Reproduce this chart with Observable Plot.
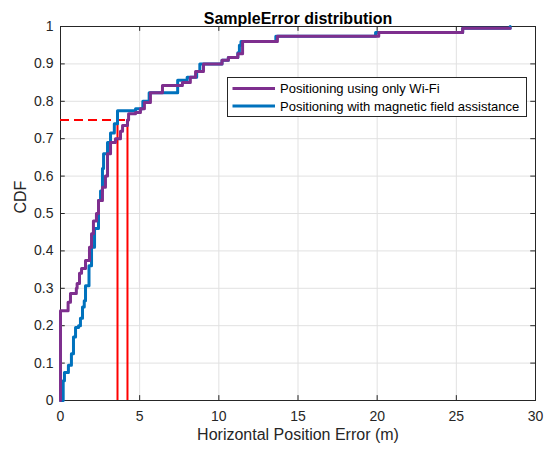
<!DOCTYPE html>
<html>
<head>
<meta charset="utf-8">
<script src="https://cdn.jsdelivr.net/npm/d3@7"></script>
<script src="https://cdn.jsdelivr.net/npm/@observablehq/plot@0.6"></script>
<style>
  html, body { margin: 0; padding: 0; background: #fff; }
</style>
</head>
<body>
<div id="chart"></div>
<script>
const titleText = "SampleError distribution";
const xLabel = "Horizontal Position Error (m)";
const yLabel = "CDF";
const xTicks = [0, 5, 10, 15, 20, 25, 30];
const yTicks = [0, 0.1, 0.2, 0.3, 0.4, 0.5, 0.6, 0.7, 0.8, 0.9, 1];

const seriesNames = ["Positioning using only Wi-Fi", "Positioning with magnetic field assistance"];
const seriesColors = ["#7E2F8E", "#0072BD"];

// Wi-Fi only: step CDF breakpoints
const wifiError = [0, 0, 0.48, 0.63, 1.0, 1.05, 1.2, 1.33, 1.58, 1.83, 1.96, 2.08, 2.27, 2.4, 2.65, 2.84, 2.97, 3.16, 3.47, 3.79, 3.92, 4.23, 4.3, 4.74, 5.05, 5.3, 5.68, 6.44, 7.7, 8.2, 8.53, 9.03, 10.2, 10.6, 11.2, 11.5, 13.7, 20.1, 25.4, 28.4];
const wifiCdf   = [0, 0.24, 0.263, 0.286, 0.30, 0.313, 0.34, 0.353, 0.374, 0.41, 0.446, 0.48, 0.50, 0.535, 0.57, 0.60, 0.66, 0.69, 0.70, 0.72, 0.735, 0.75, 0.767, 0.77, 0.78, 0.797, 0.823, 0.842, 0.85, 0.864, 0.88, 0.90, 0.91, 0.917, 0.927, 0.96, 0.974, 0.984, 0.995, 0.995];

// Magnetic-field assisted: step CDF breakpoints
const magError = [0, 0.17, 0.25, 0.5, 0.69, 0.82, 0.95, 1.14, 1.26, 1.39, 1.5, 1.58, 1.8, 1.96, 2.15, 2.4, 2.53, 2.65, 2.72, 2.97, 3.16, 3.4, 3.6, 4.74, 5.2, 5.6, 7.4, 8.0, 8.6, 8.8, 10.2, 10.6, 11.2, 11.3, 11.4, 13.6, 19.9, 25.4, 28.4];
const magCdf   = [0, 0.053, 0.075, 0.094, 0.125, 0.17, 0.195, 0.2, 0.22, 0.25, 0.267, 0.307, 0.36, 0.41, 0.46, 0.535, 0.56, 0.62, 0.66, 0.69, 0.715, 0.74, 0.775, 0.78, 0.80, 0.823, 0.856, 0.864, 0.88, 0.90, 0.91, 0.917, 0.93, 0.95, 0.96, 0.974, 0.984, 0.995, 1.0];

// 75th-percentile markers
const percentileLevel = 0.75;
const percentileErrors = [3.6, 4.23];

const wifi = wifiError.map((x, i) => ({x, y: wifiCdf[i]}));
const mag = magError.map((x, i) => ({x, y: magCdf[i]}));

const ink = "#262626";
const gridColor = "#e1e1e1";

const svg = Plot.plot({
  width: 550,
  height: 449,
  marginLeft: 60,
  marginRight: 15,
  marginTop: 26,
  marginBottom: 49,
  x: {domain: [0, 30]},
  y: {domain: [0, 1]},
  style: {fontFamily: "'Liberation Sans', Arial, Helvetica, sans-serif", fontSize: "14px", color: ink, background: "#fff", overflow: "visible"},
  marks: [
    Plot.gridX(xTicks, {stroke: gridColor, strokeOpacity: 1}),
    Plot.gridY(yTicks, {stroke: gridColor, strokeOpacity: 1}),
    Plot.axisX(xTicks, {tickSize: 0, tickPadding: 11, label: null, tickFormat: d => String(d), fontSize: 14}),
    Plot.axisY(yTicks, {tickSize: 0, tickPadding: 7, label: null, tickFormat: d => String(d), fontSize: 14}),
    // inward ticks (MATLAB style) and box
    Plot.ruleX(xTicks, {y1: 0, y2: 0.013, stroke: ink}),
    Plot.ruleX(xTicks, {y1: 1, y2: 0.987, stroke: ink}),
    Plot.ruleY(yTicks, {x1: 0, x2: 0.3, stroke: ink}),
    Plot.ruleY(yTicks, {x1: 30, x2: 29.7, stroke: ink}),
    Plot.frame({stroke: ink, strokeWidth: 1}),
    Plot.ruleX(percentileErrors, {y1: 0, y2: percentileLevel, stroke: "#ff0000", strokeWidth: 2}),
    Plot.ruleY([percentileLevel], {x1: 0, x2: percentileErrors[1], stroke: "#ff0000", strokeWidth: 2, strokeDasharray: "9,5"}),
    Plot.line(mag, {x: "x", y: "y", curve: "step-after", stroke: seriesColors[1], strokeWidth: 3}),
    Plot.line(wifi, {x: "x", y: "y", curve: "step-after", stroke: seriesColors[0], strokeWidth: 3}),
    Plot.text([titleText], {frameAnchor: "top", dy: -14, fontWeight: "bold", fontSize: 16, fill: "#000"}),
    Plot.text([xLabel], {frameAnchor: "bottom", dy: 39, fontSize: 16, fill: ink}),
    Plot.text([yLabel], {frameAnchor: "left", dx: -40, rotate: -90, fontSize: 16, fill: ink})
  ]
});

// Legend box (drawn onto the same SVG)
const lg = d3.select(svg).append("g")
  .attr("transform", "translate(227.5,77.5)")
  .attr("font-family", "'Liberation Sans', Arial, Helvetica, sans-serif")
  .attr("font-size", 13)
  .attr("text-anchor", "start");
lg.append("rect").attr("width", 299).attr("height", 39).attr("fill", "#fff").attr("stroke", ink).attr("stroke-width", 1);
seriesNames.forEach((name, i) => {
  const yy = 11 + i * 17.5;
  lg.append("line").attr("x1", 5).attr("x2", 47.5).attr("y1", yy).attr("y2", yy)
    .attr("stroke", seriesColors[i]).attr("stroke-width", 3);
  lg.append("text").attr("x", 52.5).attr("y", yy).attr("dy", "0.35em").attr("fill", "#000")
    .attr("text-anchor", "start").text(name);
});

document.getElementById("chart").appendChild(svg);
</script>
</body>
</html>
